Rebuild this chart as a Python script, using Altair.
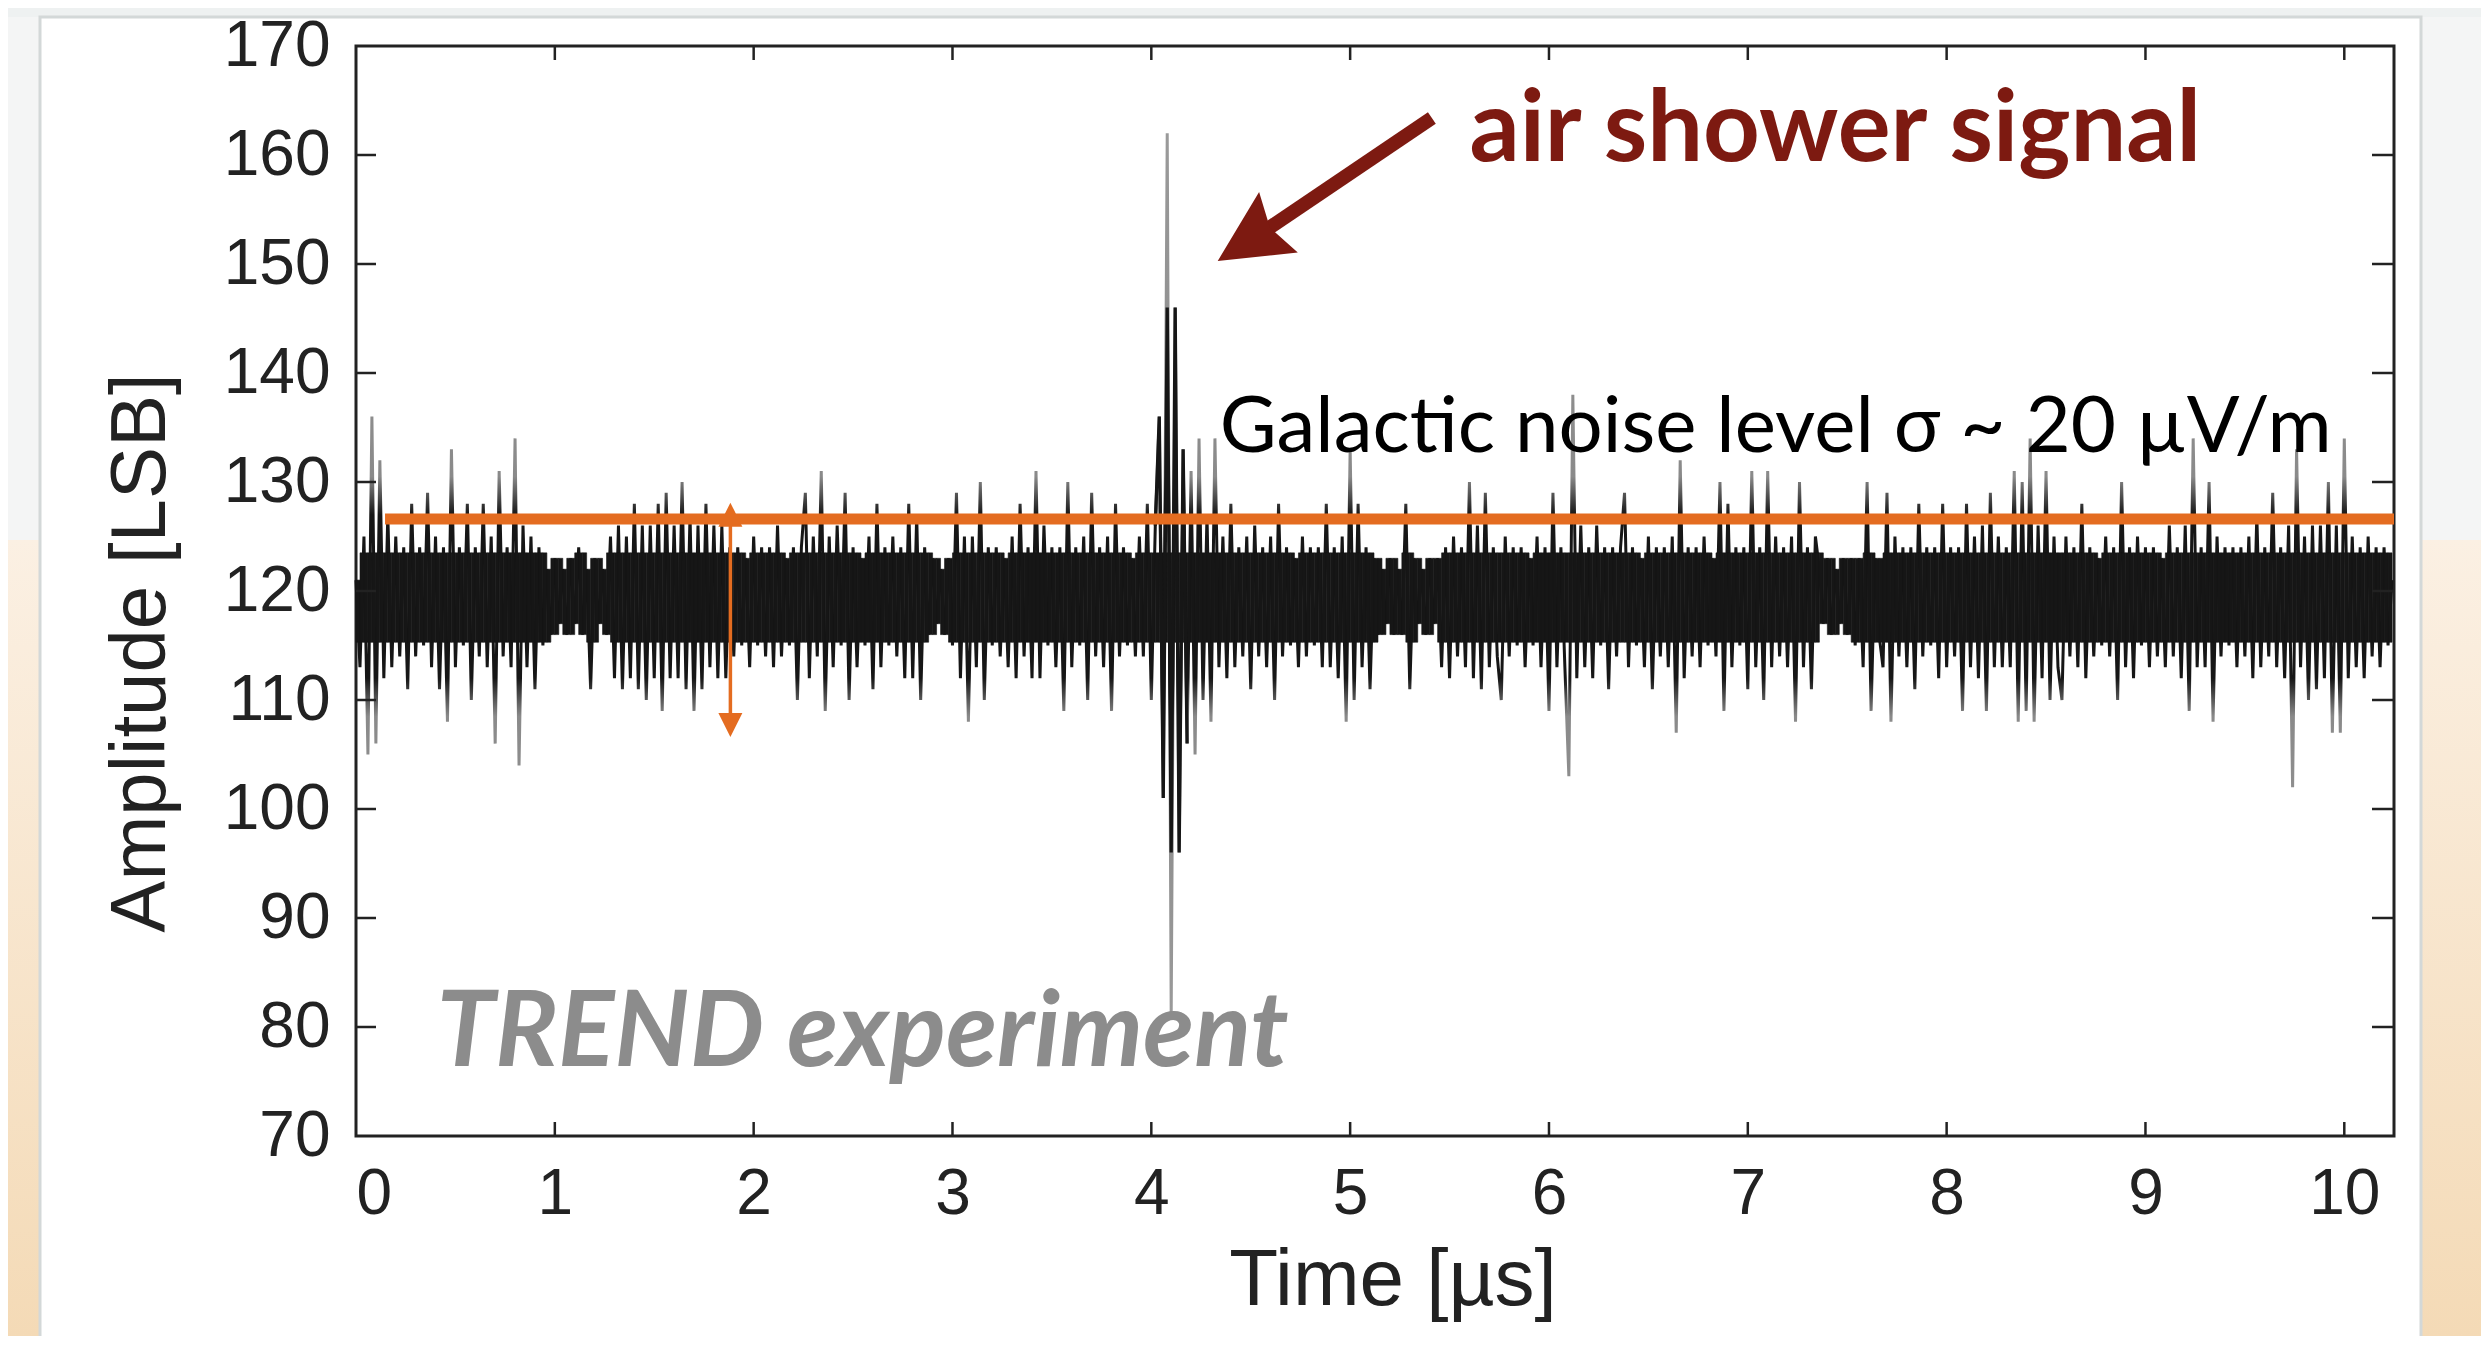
import altair as alt
import pandas as pd

# ---------------- data ----------------
sample_period_us = 0.02
amplitude_lsb = [
    121, 113, 125, 105, 136, 106, 132, 112, 127, 113, 125, 114, 124, 111, 128, 114,
    124, 115, 129, 113, 125, 111, 124, 108, 133, 113, 124, 115, 128, 110, 124, 114,
    128, 113, 125, 106, 131, 114, 124, 113, 134, 104, 126, 113, 125, 111, 124, 115,
    122, 116, 123, 117, 122, 116, 123, 117, 124, 116, 122, 111, 123, 117, 122, 116,
    125, 112, 126, 111, 125, 112, 128, 111, 126, 110, 126, 112, 128, 109, 129, 112,
    126, 112, 130, 111, 127, 109, 126, 111, 128, 113, 126, 112, 126, 112, 124, 114,
    124, 115, 123, 113, 125, 115, 124, 114, 124, 113, 126, 114, 123, 115, 124, 110,
    124, 129, 112, 125, 114, 131, 109, 125, 113, 126, 115, 129, 110, 124, 113, 123,
    115, 125, 111, 128, 113, 124, 115, 125, 114, 124, 112, 128, 112, 127, 110, 124,
    116, 123, 117, 122, 116, 123, 115, 129, 112, 125, 108, 125, 113, 130, 110, 124,
    115, 124, 114, 123, 113, 125, 112, 128, 114, 124, 112, 131, 112, 126, 115, 124,
    113, 124, 109, 130, 113, 124, 115, 125, 110, 129, 114, 124, 113, 125, 109, 128,
    114, 124, 115, 123, 114, 125, 114, 128, 110, 126, 136, 101, 162, 81, 146, 96,
    133, 106, 131, 105, 134, 110, 127, 108, 134, 113, 125, 112, 128, 113, 124, 114,
    125, 111, 126, 114, 124, 113, 125, 110, 128, 114, 124, 115, 123, 113, 125, 114,
    124, 115, 124, 113, 128, 113, 124, 112, 125, 108, 133, 110, 128, 113, 124, 111,
    123, 116, 122, 117, 123, 116, 122, 116, 128, 111, 123, 117, 122, 116, 123, 117,
    123, 113, 124, 112, 125, 114, 124, 113, 130, 112, 126, 111, 129, 113, 124, 114,
    110, 125, 114, 124, 115, 124, 113, 123, 115, 125, 113, 124, 109, 129, 113, 124,
    113, 103, 138, 112, 126, 113, 124, 112, 126, 115, 124, 111, 124, 114, 124, 129,
    113, 124, 115, 123, 113, 125, 111, 124, 114, 124, 113, 125, 107, 132, 112, 124,
    114, 124, 113, 125, 115, 123, 114, 130, 109, 128, 113, 124, 115, 124, 111, 131,
    113, 124, 110, 131, 113, 125, 114, 124, 113, 125, 108, 130, 113, 124, 111, 125,
    122, 117, 123, 116, 122, 117, 123, 116, 123, 115, 123, 113, 130, 109, 123, 116,
    113, 129, 108, 125, 114, 124, 113, 124, 111, 128, 114, 124, 115, 124, 112, 128,
    113, 124, 114, 124, 109, 128, 113, 125, 112, 126, 109, 129, 113, 125, 113, 124,
    113, 131, 108, 130, 109, 134, 108, 126, 112, 131, 110, 125, 113, 110, 125, 114,
    124, 113, 128, 112, 124, 114, 123, 115, 125, 114, 124, 110, 130, 113, 124, 112,
    125, 115, 124, 113, 124, 114, 123, 113, 126, 114, 124, 112, 126, 109, 134, 113,
    124, 113, 130, 108, 125, 114, 124, 115, 124, 113, 124, 114, 125, 112, 127, 113,
    124, 114, 129, 113, 124, 112, 126, 102, 133, 113, 125, 110, 126, 111, 126, 112,
    130, 107, 126, 107, 134, 112, 125, 113, 124, 112, 125, 114, 124, 113, 124, 115,
    121,
]
time_us = [round(i * sample_period_us, 2) for i in range(len(amplitude_lsb))]

# dark (saturated) part of the air-shower pulse, as seen in the picture
pulse_t = [4.02, 4.04, 4.06, 4.08, 4.10, 4.12, 4.14, 4.16, 4.18]
pulse_amp = [126, 136, 101, 146, 96, 146, 96, 133, 106]

x_tick_values = [0, 1, 2, 3, 4, 5, 6, 7, 8, 9, 10]
y_tick_values = [70, 80, 90, 100, 110, 120, 130, 140, 150, 160, 170]
x_domain = [0, 10.25]
y_domain = [70, 170]

# annotations (data coordinates)
noise_line_t = [0.146, 10.25]
noise_line_amp = [126.6]
noise_arrow_t = [1.883]
noise_arrow_amp = [128.1, 106.6]
signal_arrow_t = [5.411, 4.576]
signal_arrow_amp = [163.4, 153.1]
signal_head_t = [4.334]
signal_head_amp = [150.28]
label_texts = ["air shower signal", "Galactic noise level σ ~ 20 µV/m", "TREND experiment"]
label_t = [5.60, 4.344, 0.405]
label_amp = [159.45, 132.75, 76.4]

# ---------------- chart ----------------
W, H = 2038, 1090
ORANGE = "#E46C20"
DARKRED = "#7D1A11"
INK = "#222222"
TRACE = "#161616"

xs = alt.Scale(domain=x_domain, nice=False, zero=False)
ys = alt.Scale(domain=y_domain, nice=False, zero=False)

AXIS_X = alt.Axis(
    values=x_tick_values, grid=False, ticks=False, domain=False, title=None,
    labelFont="Liberation Sans", labelFontSize=64, labelColor=INK,
    labelPadding=26, format="d")
AXIS_Y = alt.Axis(
    values=y_tick_values, grid=False, ticks=False, domain=False, title=None,
    labelFont="Liberation Sans", labelFontSize=64, labelColor=INK,
    labelPadding=26, format="d")


def X(field):
    return alt.X(field, type="quantitative", scale=xs, axis=AXIS_X)


def Y(field):
    return alt.Y(field, type="quantitative", scale=ys, axis=AXIS_Y)


one = pd.DataFrame({"k": [0]})

# background decoration (page furniture outside the plot)
peach = alt.LinearGradient(
    gradient="linear",
    stops=[alt.GradientStop(color="#fbf0e3", offset=0), alt.GradientStop(color="#f4dab6", offset=1)],
    x1=0, x2=0, y1=0, y2=1,
)
bg_top = alt.Chart(one).mark_rect(color="#eef1f1").encode(
    x=alt.value(-348), x2=alt.value(2125), y=alt.value(-38), y2=alt.value(-29))
bg_left_hi = alt.Chart(one).mark_rect(color="#f4f5f5").encode(
    x=alt.value(-348), x2=alt.value(-316), y=alt.value(-29), y2=alt.value(494))
bg_left_lo = alt.Chart(one).mark_rect(fill=peach).encode(
    x=alt.value(-348), x2=alt.value(-316), y=alt.value(494), y2=alt.value(1290))
bg_right_hi = alt.Chart(one).mark_rect(color="#f4f5f5").encode(
    x=alt.value(2065), x2=alt.value(2125), y=alt.value(-29), y2=alt.value(494))
bg_right_lo = alt.Chart(one).mark_rect(fill=peach).encode(
    x=alt.value(2065), x2=alt.value(2125), y=alt.value(494), y2=alt.value(1290))
card = alt.Chart(one).mark_rect(fillOpacity=0, stroke="#d3d8d8", strokeWidth=3).encode(
    x=alt.value(-316), x2=alt.value(2065), y=alt.value(-29), y2=alt.value(1300))

trace_df = pd.DataFrame({"t": time_us, "a": amplitude_lsb})

# solid core of the noise band: span of the three neighbouring samples,
# limited to the range that the scan prints as solid black
core = alt.Chart(trace_df).transform_window(
    mn="min(a)", mx="max(a)", t_next="lead(t)", frame=[-1, 1],
    sort=[alt.SortField("t", order="ascending")]
).transform_filter(
    "datum.t_next != null"
).transform_calculate(
    lo="max(datum.mn, 115.3)",
    hi="min(datum.mx, 123.5)",
).transform_filter(
    "datum.hi > datum.lo"
).mark_rect(color=TRACE, stroke=TRACE, strokeWidth=0.6).encode(
    x=X("t"), x2="t_next:Q", y=Y("lo"), y2="hi:Q")

# thin trace: dark inside the noise band, greyer on the far excursions
a_max, a_min = max(amplitude_lsb), min(amplitude_lsb)


def off(v):
    return round((a_max - v) / (a_max - a_min), 4)


trace_stroke = alt.LinearGradient(
    gradient="linear", x1=0, x2=0, y1=0, y2=1,
    stops=[
        alt.GradientStop(color="#9a9a9a", offset=0),
        alt.GradientStop(color="#8a8a8a", offset=off(130.5)),
        alt.GradientStop(color=TRACE, offset=off(127.0)),
        alt.GradientStop(color=TRACE, offset=off(112.0)),
        alt.GradientStop(color="#8a8a8a", offset=off(108.5)),
        alt.GradientStop(color="#9a9a9a", offset=1),
    ],
)
trace = alt.Chart(trace_df).mark_line(
    stroke=trace_stroke, strokeWidth=3.0, strokeJoin="bevel"
).encode(x=X("t"), y=Y("a"))
pulse = alt.Chart(pd.DataFrame({"t": pulse_t, "a": pulse_amp})).mark_line(
    color=TRACE, strokeWidth=3.3, strokeJoin="bevel"
).encode(x=X("t"), y=Y("a"))

# inward ticks on all four sides
inner_y = pd.DataFrame({"v": y_tick_values[1:-1]})
inner_x = pd.DataFrame({"v": x_tick_values[1:]})
tick_left = alt.Chart(inner_y).mark_rule(color=INK, strokeWidth=2.5).encode(
    y=Y("v"), x=alt.value(0), x2=alt.value(20))
tick_right = alt.Chart(inner_y).mark_rule(color=INK, strokeWidth=2.5).encode(
    y=Y("v"), x=alt.value(W - 22), x2=alt.value(W))
tick_bottom = alt.Chart(inner_x).mark_rule(color=INK, strokeWidth=2.5).encode(
    x=X("v"), y=alt.value(H - 14), y2=alt.value(H))
tick_top = alt.Chart(inner_x).mark_rule(color=INK, strokeWidth=2.5).encode(
    x=X("v"), y=alt.value(0), y2=alt.value(14))

# orange noise level line and double arrow
noise_line = alt.Chart(pd.DataFrame({"t0": [noise_line_t[0]], "t1": [noise_line_t[1]], "a": noise_line_amp})).mark_rule(
    color=ORANGE, strokeWidth=11).encode(x=X("t0"), x2="t1:Q", y=Y("a"))
noise_shaft = alt.Chart(pd.DataFrame({"t": noise_arrow_t, "a0": [noise_arrow_amp[0] - 1.0], "a1": [noise_arrow_amp[1] + 1.5]})).mark_rule(
    color=ORANGE, strokeWidth=3.5).encode(x=X("t"), y=Y("a0"), y2="a1:Q")
head_up = alt.Chart(pd.DataFrame({"t": noise_arrow_t, "a": [noise_arrow_amp[0]]})).mark_point(
    shape="M0,0L0.5,1L-0.5,1Z", size=2304, filled=True, color=ORANGE, opacity=1, strokeWidth=0
).encode(x=X("t"), y=Y("a"))
head_down = alt.Chart(pd.DataFrame({"t": noise_arrow_t, "a": [noise_arrow_amp[1]]})).mark_point(
    shape="M0,0L0.5,-1L-0.5,-1Z", size=2304, filled=True, color=ORANGE, opacity=1, strokeWidth=0
).encode(x=X("t"), y=Y("a"))

# red arrow to the air shower pulse
sig_shaft = alt.Chart(pd.DataFrame({"t": signal_arrow_t, "a": signal_arrow_amp})).mark_line(
    color=DARKRED, strokeWidth=14, strokeCap="butt").encode(x=X("t"), y=Y("a"))
sig_head = alt.Chart(pd.DataFrame({"t": signal_head_t, "a": signal_head_amp})).mark_point(
    shape="M0,0L0.5,1L0,0.86L-0.5,1Z", size=20736, filled=True, color=DARKRED,
    opacity=1, strokeWidth=0, angle=237.5
).encode(x=X("t"), y=Y("a"))


def label(i, **style):
    df = pd.DataFrame({"t": [label_t[i]], "a": [label_amp[i]], "s": [label_texts[i]]})
    return alt.Chart(df).mark_text(align="left", baseline="alphabetic", **style).encode(
        x=X("t"), y=Y("a"), text="s:N")


txt_signal = label(0, font="Lato", fontWeight="bold", fontSize=99, color=DARKRED)
txt_noise = label(1, font="Lato", fontSize=78, color="#000000")
txt_trend = label(2, font="Lato", fontWeight="bold", fontStyle="italic", fontSize=105, color="#8c8c8c")

# axis titles
title_y = alt.Chart(one).mark_text(
    text="Amplitude [LSB]", angle=270, align="center", baseline="alphabetic",
    font="Liberation Sans", fontSize=78, color=INK
).encode(x=alt.value(-191), y=alt.value(607))
title_x = alt.Chart(one).mark_text(
    text="Time [µs]", align="center", baseline="alphabetic",
    font="Liberation Sans", fontSize=80, color=INK
).encode(x=alt.value(1037), y=alt.value(1259))

chart = alt.layer(
    bg_top, bg_left_hi, bg_left_lo, bg_right_hi, bg_right_lo, card,
    trace, core, pulse, noise_line, noise_shaft, head_up, head_down,
    txt_noise, txt_trend, sig_shaft, sig_head, txt_signal,
    tick_left, tick_right, tick_bottom, tick_top,
    title_y, title_x,
).properties(
    width=W, height=H,
    autosize=alt.AutoSizeParams(type="none"),
    padding={"left": 348, "top": 38, "right": 87, "bottom": 200},
    background="white",
).configure_view(stroke=INK, strokeWidth=3)

chart.save("out.html", embed_options={"renderer": "svg", "actions": False})
